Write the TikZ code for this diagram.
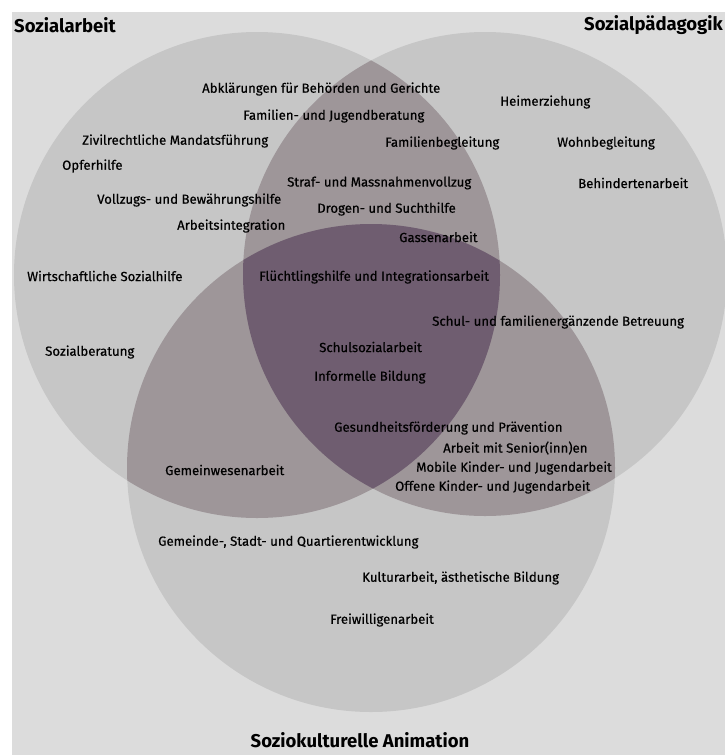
\documentclass[tikz,border=0pt]{standalone}
\usepackage{fontspec}
\setmainfont{Fira Sans}
\newfontfamily\venntext[FakeBold=0.45]{Fira Sans}
\usetikzlibrary{positioning}
\definecolor{VennBack}{HTML}{DCDCDC}
\definecolor{VennOne}{HTML}{C6C6C6}
\definecolor{VennTwo}{HTML}{9E9699}
\definecolor{VennThree}{HTML}{6F5D70}

\begin{document}
\begin{tikzpicture}[x=1pt, y=-1pt,
        field/.style={anchor=west, inner sep=0pt, font=\venntext\fontsize{13.2}{15}\selectfont},
        title/.style={anchor=west, inner sep=0pt, font=\bfseries\fontsize{18.5}{21}\selectfont}]

    \useasboundingbox (0,0) rectangle (725,755);
    \fill[white] (0,0) rectangle (725,755);
    \fill[VennBack] (12,12) rectangle (725,755);

    % the three circles
    \coordinate (sa) at (257,275);
    \coordinate (sp) at (485,274);
    \coordinate (ska) at (371,468);
    \fill[VennOne] (sa) circle[radius=243pt];
    \fill[VennOne] (sp) circle[radius=242pt];
    \fill[VennOne] (ska) circle[radius=244pt];

    % overlaps
    \begin{scope}
        \clip (sa) circle[radius=243pt];
        \fill[VennTwo] (sp) circle[radius=242pt];
        \fill[VennTwo] (ska) circle[radius=244pt];
    \end{scope}
    \begin{scope}
        \clip (sp) circle[radius=242pt];
        \fill[VennTwo] (ska) circle[radius=244pt];
    \end{scope}
    \begin{scope}
        \clip (sa) circle[radius=243pt];
        \clip (sp) circle[radius=242pt];
        \fill[VennThree] (ska) circle[radius=244pt];
    \end{scope}

    % titles
    \node[title] (tsa) at (14,25) {Sozialarbeit};
    \node[title] (tsp) at (584,25) {Sozialpädagogik};
    \node[title, anchor=center] (tska) at (360,740) {Soziokulturelle Animation};

    % fields of work
    \node[field] (abkl) at (202,89) {Abklärungen für Behörden und Gerichte};
    \node[field] (famjug) at (243,116) {Familien- und Jugendberatung};
    \node[field] (zivil) at (82,141) {Zivilrechtliche Mandatsführung};
    \node[field] (opfer) at (62,166) {Opferhilfe};
    \node[field] (straf) at (287,183) {Straf- und Massnahmenvollzug};
    \node[field] (vollz) at (97,200) {Vollzugs- und Bewährungshilfe};
    \node[field] (drogen) at (317,209) {Drogen- und Suchthilfe};
    \node[field] (arbint) at (177,226) {Arbeitsintegration};
    \node[field] (wirt) at (27,276) {Wirtschaftliche Sozialhilfe};
    \node[field] (fluecht) at (259,277) {Flüchtlingshilfe und Integrationsarbeit};
    \node[field] (heim) at (500,102) {Heimerziehung};
    \node[field] (fambeg) at (385,143) {Familienbegleitung};
    \node[field] (wohn) at (557,143) {Wohnbegleitung};
    \node[field] (behind) at (578,183) {Behindertenarbeit};
    \node[field] (gasse) at (399,237) {Gassenarbeit};
    \node[field] (schulfam) at (432,322) {Schul- und familienergänzende Betreuung};
    \node[field] (sozber) at (45,352) {Sozialberatung};
    \node[field] (schulsoz) at (319,347) {Schulsozialarbeit};
    \node[field] (informell) at (314,377) {Informelle Bildung};
    \node[field] (gesund) at (334,428) {Gesundheitsförderung und Prävention};
    \node[field] (senior) at (443,448) {Arbeit mit Senior(inn)en};
    \node[field] (mobil) at (416,468) {Mobile Kinder- und Jugendarbeit};
    \node[field] (offen) at (395,487) {Offene Kinder- und Jugendarbeit};
    \node[field] (gemwes) at (165,470) {Gemeinwesenarbeit};
    \node[field] (quartier) at (158,542) {Gemeinde-, Stadt- und Quartierentwicklung};
    \node[field] (kultur) at (362,578) {Kulturarbeit, ästhetische Bildung};
    \node[field] (freiw) at (330,620) {Freiwilligenarbeit};
\end{tikzpicture}
\end{document}
